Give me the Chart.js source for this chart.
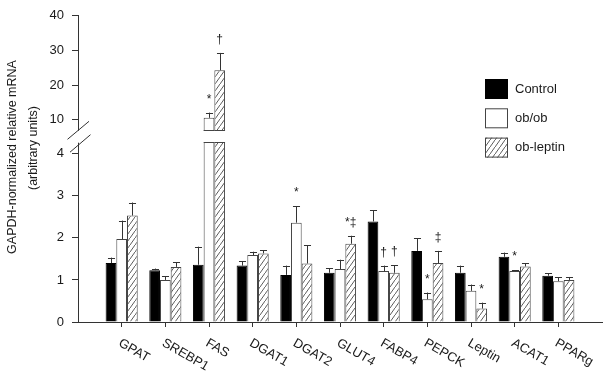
<!DOCTYPE html>
<html>
<head>
<meta charset="utf-8">
<script src="https://cdn.jsdelivr.net/npm/chart.js@4.4.1/dist/chart.umd.min.js"></script>
<style>
  body { margin: 0; background: #fff; }
  canvas { display: block; }
</style>
</head>
<body>
<canvas id="mrna-chart" width="604" height="379"></canvas>
<script>
// genes and the three groups
var genes = ['GPAT', 'SREBP1', 'FAS', 'DGAT1', 'DGAT2', 'GLUT4', 'FABP4', 'PEPCK', 'Leptin', 'ACAT1', 'PPARg'];
var seriesNames = ['Control', 'ob/ob', 'ob-leptin'];

var control = [1.40, 1.23, 1.36, 1.34, 1.12, 1.17, 2.39, 1.69, 1.17, 1.55, 1.10];
var controlErr = [0.13, 0.04, 0.43, 0.11, 0.22, 0.11, 0.27, 0.30, 0.17, 0.10, 0.06];
var obob = [1.97, 1.00, 10.6, 1.59, 2.36, 1.26, 1.21, 0.54, 0.74, 1.21, 0.97];
var obobErr = [0.44, 0.09, 1.5, 0.08, 0.39, 0.22, 0.13, 0.16, 0.15, 0.02, 0.09];
var obLeptin = [2.53, 1.31, 24.3, 1.63, 1.39, 1.86, 1.17, 1.40, 0.32, 1.32, 1.00];
var obLeptinErr = [0.31, 0.11, 5.0, 0.07, 0.44, 0.19, 0.18, 0.29, 0.14, 0.08, 0.07];

// significance marks
var controlMarks = ['', '', '', '', '', '', '', '', '', '', ''];
var obobMarks = ['', '', '*', '', '*', '', '\u2020', '*', '', '*', ''];
var obLeptinMarks = ['', '', '\u2020', '', '', '*\u2021', '\u2020', '\u2021', '*', '', ''];

var yTicks = [0, 1, 2, 3, 4, 10, 20, 30, 40];
var yTitle = ['GAPDH-normalized relative mRNA', '(arbitrary units)'];

// broken axis: 0..LOW_TOP in the lower part, HIGH_BOTTOM..max in the upper part
var LOW_TOP = 4.25, HIGH_BOTTOM = 7;
var LOW_SHARE = 0.584, HIGH_START = 0.626;

var FONT = "'Liberation Sans', Arial, sans-serif";
var INK = '#1a1a1a';

class BrokenScale extends Chart.LinearScale {
	buildTicks () {
		return yTicks.map(function (v) { return {value: v}; });
	}
	toDecimal (v) {
		if (v <= LOW_TOP) return v / LOW_TOP * LOW_SHARE;
		if (v >= HIGH_BOTTOM) return HIGH_START + (v - HIGH_BOTTOM) / (this.max - HIGH_BOTTOM) * (1 - HIGH_START);
		return LOW_SHARE + (v - LOW_TOP) / (HIGH_BOTTOM - LOW_TOP) * (HIGH_START - LOW_SHARE);
	}
	getPixelForValue (v) {
		if (v === null || v === undefined || isNaN(v)) return NaN;
		return this.getPixelForDecimal(this.toDecimal(v));
	}
	getValueForPixel (p) {
		var d = this.getDecimalForPixel(p);
		if (d <= LOW_SHARE) return d / LOW_SHARE * LOW_TOP;
		if (d >= HIGH_START) return HIGH_BOTTOM + (d - HIGH_START) / (1 - HIGH_START) * (this.max - HIGH_BOTTOM);
		return LOW_TOP + (d - LOW_SHARE) / (HIGH_START - LOW_SHARE) * (HIGH_BOTTOM - LOW_TOP);
	}
}
BrokenScale.id = 'broken';
BrokenScale.defaults = Chart.LinearScale.defaults;
Chart.register(BrokenScale);

function makeHatch () {
	var c = document.createElement('canvas');
	c.width = 5; c.height = 7;
	var g = c.getContext('2d');
	g.fillStyle = '#fff';
	g.fillRect(0, 0, 5, 7);
	g.strokeStyle = '#4a4a4a';
	g.lineWidth = 0.9;
	g.beginPath();
	g.moveTo(-1, 8.4); g.lineTo(6, -1.4);
	g.stroke();
	return g.createPattern(c, 'repeat');
}
var hatch = makeHatch();

var fills = ['#000', '#fff', hatch];
var borders = ['#000', '#444', '#444'];
var values = [control, obob, obLeptin];
var errors = [controlErr, obobErr, obLeptinErr];
var marks = [controlMarks, obobMarks, obLeptinMarks];

var decor = {
	id: 'decor',
	afterDatasetsDraw (chart) {
		var ctx = chart.ctx;
		var y = chart.scales.y;
		var area = chart.chartArea;
		var gapTop = y.getPixelForValue(HIGH_BOTTOM);
		var gapBottom = y.getPixelForValue(LOW_TOP);

		ctx.save();
		// cut the break out of the axis and the tall bars
		ctx.fillStyle = '#fff';
		ctx.fillRect(area.left - 2, gapTop + 0.5, area.right - area.left + 4, gapBottom - gapTop - 1);

		ctx.strokeStyle = '#444';
		ctx.lineWidth = 1;
		chart.data.datasets.forEach(function (ds, d) {
			chart.getDatasetMeta(d).data.forEach(function (bar, j) {
				var left = bar.x - bar.width / 2, right = bar.x + bar.width / 2;
				if (values[d][j] > HIGH_BOTTOM) {
					ctx.beginPath();
					ctx.moveTo(left, Math.round(gapTop) + 0.5);
					ctx.lineTo(right, Math.round(gapTop) + 0.5);
					ctx.moveTo(left, Math.round(gapBottom) - 0.5);
					ctx.lineTo(right, Math.round(gapBottom) - 0.5);
					ctx.stroke();
				}
			});
		});

		// error bars, upward only
		ctx.strokeStyle = '#333';
		chart.data.datasets.forEach(function (ds, d) {
			chart.getDatasetMeta(d).data.forEach(function (bar, j) {
				var top = y.getPixelForValue(values[d][j] + errors[d][j]);
				var cx = Math.round(bar.x) + 0.5;
				var cap = bar.width * 0.33;
				ctx.beginPath();
				ctx.moveTo(cx, bar.y);
				ctx.lineTo(cx, top);
				ctx.moveTo(cx - cap, Math.round(top) + 0.5);
				ctx.lineTo(cx + cap, Math.round(top) + 0.5);
				ctx.stroke();

				var m = marks[d][j];
				if (m) {
					ctx.fillStyle = INK;
					ctx.font = '12px ' + FONT;
					ctx.textAlign = 'center';
					ctx.textBaseline = 'alphabetic';
					ctx.fillText(m, bar.x, top - 10);
				}
			});
		});
		ctx.restore();
	},
	afterDraw (chart) {
		var ctx = chart.ctx;
		var x = chart.scales.x;
		var y = chart.scales.y;
		var area = chart.chartArea;
		var gapTop = y.getPixelForValue(HIGH_BOTTOM);
		var gapBottom = y.getPixelForValue(LOW_TOP);

		ctx.save();
		// break marks on the y axis
		ctx.strokeStyle = '#333';
		ctx.lineWidth = 1;
		ctx.beginPath();
		ctx.moveTo(area.left - 10.5, gapTop + 9); ctx.lineTo(area.left + 11, gapTop - 9);
		ctx.moveTo(area.left - 8, gapBottom + 9); ctx.lineTo(area.left + 12.5, gapBottom - 8.5);
		ctx.stroke();

		// y title, two lines
		ctx.fillStyle = INK;
		ctx.font = '12.5px ' + FONT;
		ctx.textAlign = 'center';
		ctx.textBaseline = 'alphabetic';
		ctx.save();
		ctx.translate(15.5, 157);
		ctx.rotate(-Math.PI / 2);
		ctx.fillText(yTitle[0], 0, 0);
		ctx.restore();
		ctx.save();
		ctx.translate(37, 148);
		ctx.rotate(-Math.PI / 2);
		ctx.fillText(yTitle[1], 0, 0);
		ctx.restore();

		// slanted gene labels
		ctx.font = '13px ' + FONT;
		ctx.textAlign = 'left';
		ctx.textBaseline = 'top';
		genes.forEach(function (g) {
			var px = x.getPixelForValue(x.getLabels().indexOf(g));
			ctx.save();
			ctx.translate(px + 1, area.bottom + 14.5);
			ctx.rotate(Math.PI / 6);
			ctx.fillText(g, 0, 0);
			ctx.restore();
		});

		// legend
		ctx.textBaseline = 'middle';
		seriesNames.forEach(function (name, i) {
			var top = 79 + i * 29.3;
			ctx.fillStyle = fills[i];
			ctx.fillRect(485, top, 23, 20);
			ctx.strokeStyle = borders[i];
			ctx.strokeRect(485.5, top + 0.5, 22, 19);
			ctx.fillStyle = INK;
			ctx.fillText(name, 515, top + 10);
		});
		ctx.restore();
	}
};

var labels = [''].concat(genes, [' ']);

new Chart(document.getElementById('mrna-chart'), {
	type: 'bar',
	data: {
		labels: labels,
		datasets: seriesNames.map(function (name, d) {
			return {
				label: name,
				data: genes.map(function (g, i) { return {x: g, y: values[d][i]}; }),
				backgroundColor: fills[d],
				borderColor: borders[d],
				borderWidth: 1
			};
		})
	},
	options: {
		responsive: false,
		animation: false,
		layout: { padding: { top: 10, right: 2, left: 0, bottom: 0 } },
		datasets: { bar: { categoryPercentage: 0.735, barPercentage: 1 } },
		scales: {
			x: {
				type: 'category',
				offset: false,
				grid: {
					offset: false,
					drawOnChartArea: false,
					tickLength: 5,
					color: function (c) {
						return (c.index === 0 || c.index === labels.length - 1) ? 'rgba(0,0,0,0)' : '#333';
					}
				},
				border: { color: '#333' },
				ticks: { display: false },
				afterFit: function (s) { s.height = 57; }
			},
			y: {
				type: 'broken',
				min: 0,
				max: 40,
				grid: { drawOnChartArea: false, tickLength: 6, color: '#333' },
				border: { color: '#333' },
				ticks: {
					padding: 8,
					color: INK,
					font: { size: 13, family: FONT },
					callback: function (v) { return String(v); }
				},
				afterFit: function (s) { s.width = 78; }
			}
		},
		plugins: {
			legend: { display: false },
			tooltip: { enabled: false }
		}
	},
	plugins: [decor]
});
</script>
</body>
</html>
